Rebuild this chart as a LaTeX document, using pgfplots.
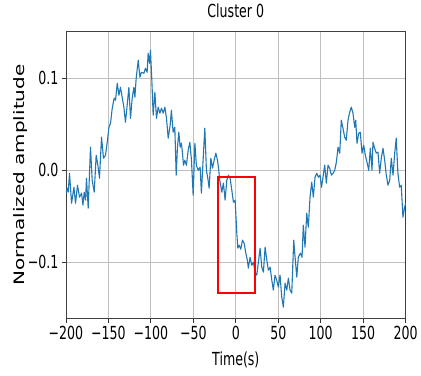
\documentclass[border=0pt]{standalone}
\usepackage{fontspec}
\setmainfont{DejaVu Sans}[FakeStretch=0.7]
\newfontfamily\plainfont{DejaVu Sans}
\usepackage{graphicx}
\usepackage{pgfplots}
\pgfplotsset{compat=1.18}
\definecolor{mplblue}{HTML}{1F77B4}
\pgfplotstableread{
x y
-200 -0.025
-198.5 -0.0196
-197.3 -0.0239
-195.8 -0.0033
-193.4 -0.0359
-190.6 -0.0185
-188.7 -0.0359
-186.4 -0.0163
-184.0 -0.0293
-181.6 -0.025
-180.0 -0.038
-178.5 -0.0239
-176.9 -0.0326
-175.8 -0.0087
-173.8 -0.0413
-171.1 0.025
-169.1 -0.0109
-166.7 -0.0239
-164.4 0.0163
-162.4 0.0054
-160.5 -0.0087
-158.1 0.0359
-155.8 0.013
-153.4 0.0163
-151.1 0.0326
-149.4 0.0467
-147.5 0.0511
-145.5 0.0674
-143.2 0.0783
-141.6 0.0761
-139.6 0.0946
-137.6 0.0815
-135.8 0.0902
-133.8 0.0793
-131.8 0.0685
-129.9 0.0522
-127.9 0.0707
-125.9 0.0902
-124.0 0.0565
-122.0 0.0783
-120.0 0.0902
-118.8 0.0793
-117.3 0.1
-114.9 0.1196
-112.9 0.1011
-111.1 0.1065
-108.2 0.1054
-106.4 0.1109
-104.4 0.1065
-103.2 0.1272
-101.6 0.1163
-100.5 0.1304
-99.1 0.1033
-97.3 0.0598
-95.3 0.0848
-93.4 0.0565
-91.4 0.0685
-89.4 0.062
-87.5 0.0674
-85.5 0.062
-83.5 0.0685
-81.6 0.0565
-79.6 0.0348
-77.3 0.0489
-75.8 0.0652
-73.8 0.0413
-71.8 0.0467
-70.2 -0.0054
-68.7 0.025
-67.1 0.0413
-65.5 0.025
-64.0 0.0293
-62.8 0.0185
-61.6 0.0054
-60.0 0.0109
-58.1 0.0054
-56.1 0.0217
-54.1 0.0304
-52.2 0.0109
-50.2 -0.0272
-48.2 0.0293
-46.4 0.0054
-44.4 0
-42.0 0.0033
-40.5 -0.025
-38.5 0.0109
-36.5 0.0457
-34.6 0
-32.6 -0.0109
-31.4 -0.0196
-29.4 0.013
-27.5 0.0022
-25.5 0.0109
-23.5 0.0185
-21.6 0.0109
-20.0 0
-19.3 -0.0087
-16.5 -0.0239
-14.6 -0.0141
-12.6 -0.0326
-10.6 -0.0109
-8.7 -0.0054
-6.7 -0.0087
-4.7 -0.0217
-2.8 -0.0348
-0.8 -0.0326
1.2 -0.0685
2.4 -0.0848
3.9 -0.0815
5.9 -0.0859
7.8 -0.0761
9.8 -0.0793
11.8 -0.0902
13.6 -0.0978
14.8 -0.1065
16.8 -0.0946
18.8 -0.1033
20.7 -0.1
22.7 -0.1109
24.7 -0.1141
26.6 -0.1
28.6 -0.0848
30.6 -0.1054
32.5 -0.1109
34.5 -0.0837
36.5 -0.0978
38.4 -0.1087
40.4 -0.1054
42.4 -0.1196
44.2 -0.1304
46.2 -0.1141
48.2 -0.1196
50.1 -0.1272
52.1 -0.1141
54.1 -0.138
56.0 -0.1489
58.0 -0.1228
60.0 -0.1304
61.9 -0.1174
63.9 -0.1304
65.9 -0.1337
68.2 -0.0761
70.1 -0.0978
71.8 -0.1163
73.6 -0.0946
76.0 -0.0902
78.0 -0.0946
79.5 -0.0598
81.5 -0.0837
83.5 -0.0467
85.4 -0.062
87.4 -0.0293
89.4 -0.013
91.3 -0.0293
93.3 -0.0076
95.3 -0.0033
97.2 -0.0076
99.2 -0.0054
100.9 -0.0185
102.7 -0.0076
104.7 0.0054
106.6 -0.0141
108.6 0.0054
110.6 0.0022
112.5 -0.0054
114.5 -0.0033
116.5 0
118.4 0.0087
120.4 0.025
122.4 0.0185
124.2 0.0543
126.2 0.0457
128.2 0.0359
130.1 0.0326
132.1 0.0543
134.1 0.063
136.0 0.0685
138.0 0.062
140.0 0.0467
141.2 0.0543
142.7 0.0293
144.7 0.0402
146.6 0.0413
148.6 0.0185
150.6 0.0272
152.5 0.0163
154.5 0.0087
156.5 0
158.4 0.0239
160.4 0
161.5 0.0304
163.5 0.0239
165.4 0.0185
167.4 0.0196
169.4 -0.0033
171.3 0.013
173.3 0.0239
175.3 0.0109
177.2 -0.0054
179.2 -0.0163
181.2 -0.0109
183.1 0.013
185.1 -0.0054
187.1 0.0185
188.9 0.0348
190.9 -0.0033
192.9 -0.0185
194.8 -0.0163
196.8 -0.0511
198.8 -0.0402
200 -0.0359
}\cluster
\begin{document}
\begin{tikzpicture}
\begin{axis}[
  scale only axis, width=340pt, height=288pt,
  xmin=-200, xmax=200, ymin=-0.1615, ymax=0.1514,
  xtick={-200,-150,-100,-50,0,50,100,150,200},
  xticklabels={−200,−150,−100,−50,0,50,100,150,200},
  ytick={-0.1,0,0.1},
  yticklabels={−0.1,0.0,0.1},
  grid=major, grid style={color=black!25, line width=0.8pt},
  axis line style={color=black!75, line width=0.8pt},
  tick align=outside, tick pos=left, major tick length=4pt,
  tick style={color=black!80, line width=0.8pt},
  ticklabel style={font=\fontsize{18}{18}\selectfont},
  title={Cluster 0},
  title style={at={(axis description cs:0.5,1.049)}, anchor=center, font=\fontsize{18}{18}\selectfont},
  xlabel={Time(s)},
  xlabel style={at={(axis description cs:0.5,-0.142)}, anchor=center, font=\fontsize{18}{18}\selectfont},
  ylabel={\scalebox{1}[0.72]{\plainfont\fontsize{20}{20}\selectfont Normalized amplitude}},
  ylabel style={at={(axis description cs:-0.135,0.5)}, anchor=center, rotate=0},
  clip=true,
]
\addplot[color=mplblue, line width=1.1pt, line join=round] table[x=x,y=y] {\cluster};
\addplot[color=red, line width=2pt, line join=miter] coordinates {(-21,-0.0076) (23,-0.0076) (23,-0.134) (-21,-0.134) (-21,-0.0076) (23,-0.0076)};
\end{axis}
\path ([xshift=-66pt,yshift=-57pt]current axis.south west) rectangle ++(421pt,376pt);
\end{tikzpicture}
\end{document}
